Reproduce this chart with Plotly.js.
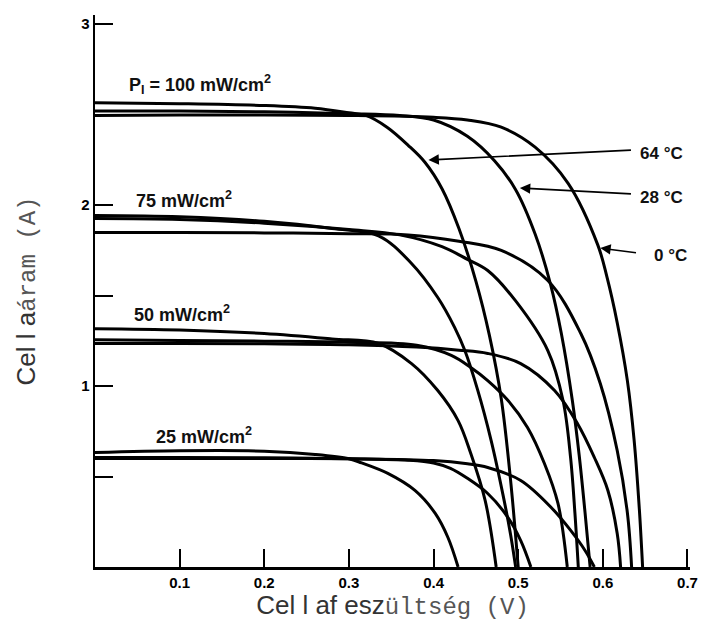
<!DOCTYPE html>
<html>
<head>
<meta charset="utf-8">
<script src="https://cdn.plot.ly/plotly-3.0.1.min.js"></script>
<style>html,body{margin:0;padding:0;background:#fff;}#chart{width:708px;height:630px;}</style>
</head>
<body>
<div id="chart"></div>
<script>
// ---- Data (cell voltage V, cell current A) ----
// 100 mW/cm2
const v100_64 = [0, 0.10, 0.20, 0.26, 0.30, 0.32, 0.345, 0.37, 0.39, 0.41, 0.43, 0.45, 0.466, 0.48, 0.491, 0.50];
const i100_64 = [2.565, 2.56, 2.55, 2.535, 2.51, 2.495, 2.43, 2.33, 2.235, 2.09, 1.87, 1.58, 1.28, 0.93, 0.48, 0];
const v100_28 = [0, 0.10, 0.20, 0.30, 0.36, 0.40, 0.44, 0.472, 0.497, 0.52, 0.538, 0.551, 0.564, 0.572, 0.579, 0.585];
const i100_28 = [2.52, 2.52, 2.515, 2.505, 2.495, 2.47, 2.38, 2.245, 2.085, 1.84, 1.566, 1.29, 0.92, 0.62, 0.30, 0];
const v100_0  = [0, 0.10, 0.20, 0.30, 0.40, 0.44, 0.48, 0.52, 0.559, 0.594, 0.605, 0.617, 0.629, 0.637, 0.643, 0.647];
const i100_0  = [2.495, 2.497, 2.497, 2.495, 2.485, 2.47, 2.43, 2.32, 2.12, 1.78, 1.60, 1.35, 1.03, 0.70, 0.33, 0];
// 75 mW/cm2
const v75_64 = [0, 0.10, 0.20, 0.28, 0.335, 0.374, 0.405, 0.425, 0.437, 0.452, 0.468, 0.482, 0.491, 0.497];
const i75_64 = [1.942, 1.935, 1.91, 1.87, 1.83, 1.677, 1.489, 1.323, 1.196, 0.98, 0.70, 0.40, 0.18, 0];
const v75_28 = [0, 0.10, 0.20, 0.30, 0.36, 0.41, 0.44, 0.464, 0.497, 0.535, 0.553, 0.562, 0.567, 0.571];
const i75_28 = [1.925, 1.92, 1.90, 1.865, 1.835, 1.77, 1.70, 1.638, 1.47, 1.196, 0.92, 0.60, 0.30, 0];
const v75_0  = [0, 0.10, 0.20, 0.30, 0.37, 0.43, 0.48, 0.535, 0.574, 0.597, 0.617, 0.629, 0.634];
const i75_0  = [1.848, 1.848, 1.846, 1.842, 1.835, 1.80, 1.749, 1.583, 1.29, 1.014, 0.644, 0.30, 0];
// 50 mW/cm2
const v50_64 = [0, 0.10, 0.20, 0.28, 0.335, 0.374, 0.405, 0.429, 0.444, 0.461, 0.474];
const i50_64 = [1.317, 1.31, 1.29, 1.26, 1.235, 1.124, 0.975, 0.809, 0.627, 0.367, 0];
const v50_28 = [0, 0.10, 0.20, 0.30, 0.38, 0.421, 0.444, 0.464, 0.488, 0.511, 0.531, 0.547, 0.558];
const i50_28 = [1.255, 1.252, 1.248, 1.242, 1.225, 1.169, 1.102, 1.03, 0.92, 0.771, 0.572, 0.351, 0];
const v50_0  = [0, 0.10, 0.20, 0.30, 0.38, 0.43, 0.464, 0.503, 0.543, 0.57, 0.59, 0.606, 0.617, 0.621];
const i50_0  = [1.235, 1.235, 1.233, 1.228, 1.215, 1.198, 1.18, 1.124, 0.975, 0.793, 0.605, 0.423, 0.185, 0];
// 25 mW/cm2
const v25_64 = [0, 0.10, 0.20, 0.26, 0.30, 0.315, 0.346, 0.378, 0.402, 0.417, 0.429];
const i25_64 = [0.632, 0.642, 0.64, 0.622, 0.598, 0.575, 0.517, 0.423, 0.296, 0.163, 0];
const v25_28 = [0, 0.10, 0.20, 0.30, 0.37, 0.40, 0.42, 0.44, 0.464, 0.488, 0.503, 0.515];
const i25_28 = [0.605, 0.605, 0.603, 0.598, 0.59, 0.575, 0.545, 0.49, 0.406, 0.273, 0.146, 0];
const v25_0  = [0, 0.10, 0.20, 0.30, 0.40, 0.44, 0.464, 0.503, 0.539, 0.562, 0.579, 0.590];
const i25_0  = [0.600, 0.600, 0.600, 0.598, 0.588, 0.57, 0.55, 0.478, 0.329, 0.202, 0.091, 0];

// Axis ticks
const xTickVals = [0.1, 0.2, 0.3, 0.4, 0.5, 0.6, 0.7];
const xTickText = ['0.1', '0.2', '0.3', '0.4', '0.5', '0.6', '0.7'];
const yTickVals = [0.5, 1, 1.5, 2, 2.5, 3];
const yTickText = ['', '1', '', '2', '', '3'];

// Labels
const irradLabels = ['P<sub>I</sub> = 100 mW/cm<sup>2</sup>', '75 mW/cm<sup>2</sup>', '50 mW/cm<sup>2</sup>', '25 mW/cm<sup>2</sup>'];
const tempLabels = ['64 °C', '28 °C', '0 °C'];

const curves = [
  [v100_64, i100_64], [v100_28, i100_28], [v100_0, i100_0],
  [v75_64, i75_64], [v75_28, i75_28], [v75_0, i75_0],
  [v50_64, i50_64], [v50_28, i50_28], [v50_0, i50_0],
  [v25_64, i25_64], [v25_28, i25_28], [v25_0, i25_0]
];

const traces = curves.map(c => ({
  x: c[0], y: c[1], type: 'scatter', mode: 'lines',
  line: {color: '#000', width: 3, shape: 'spline', smoothing: 1},
  hoverinfo: 'skip', showlegend: false
}));

const lblFont = {family: 'Liberation Sans, Arial, sans-serif', size: 18, color: '#111', weight: 'bold'};
const tmpFont = {family: 'Liberation Sans, Arial, sans-serif', size: 17, color: '#111', weight: 'bold'};
const irradPos = [[0.038, 2.665], [0.046, 2.03], [0.044, 1.40], [0.070, 0.724]];
const tempPos = [[0.641, 2.287], [0.641, 2.044], [0.658, 1.72]];
const arrowHeads = [[0.394, 2.249], [0.502, 2.094], [0.597, 1.762]];
const arrowTails = [[0.635, 2.304], [0.635, 2.061], [0.641, 1.735]];

const annotations = [];
irradLabels.forEach((t, k) => annotations.push({
  x: irradPos[k][0], y: irradPos[k][1], xref: 'x', yref: 'y', text: t,
  showarrow: false, xanchor: 'left', yanchor: 'middle', font: lblFont
}));
tempLabels.forEach((t, k) => {
  annotations.push({
    x: tempPos[k][0], y: tempPos[k][1], xref: 'x', yref: 'y', text: t,
    showarrow: false, xanchor: 'left', yanchor: 'middle', font: tmpFont
  });
  annotations.push({
    x: arrowHeads[k][0], y: arrowHeads[k][1], xref: 'x', yref: 'y',
    ax: arrowTails[k][0], ay: arrowTails[k][1], axref: 'x', ayref: 'y',
    text: '', showarrow: true, arrowhead: 2, arrowsize: 1.3, arrowwidth: 1.6, arrowcolor: '#000', standoff: 0
  });
});

const sansTitle = "font-family:'Liberation Sans';color:#333";
const monoTitle = "font-family:'Liberation Mono';color:#555;font-size:24px";

const layout = {
  width: 708, height: 630,
  margin: {l: 95, r: 18, t: 15, b: 63},
  paper_bgcolor: '#fff', plot_bgcolor: '#fff',
  showlegend: false,
  xaxis: {
    range: [0, 0.703], showgrid: false, zeroline: false,
    showline: true, linecolor: '#000', linewidth: 2.5,
    ticks: 'inside', ticklen: 18, tickwidth: 2, tickcolor: '#000',
    tickvals: xTickVals, ticktext: xTickText,
    tickfont: {family: 'Liberation Sans, Arial, sans-serif', size: 15, color: '#000', weight: 'bold'},
    title: {
      text: '<span style="' + sansTitle + '">Cel l af esz</span><span style="' + monoTitle + '">ültség (V)</span>',
      font: {family: 'Liberation Sans, Arial, sans-serif', size: 26, color: '#333'},
      standoff: 0
    }
  },
  yaxis: {
    range: [0, 3.05], showgrid: false, zeroline: false,
    showline: true, linecolor: '#000', linewidth: 2.5,
    ticks: 'inside', ticklen: 18, tickwidth: 2, tickcolor: '#000',
    tickvals: yTickVals, ticktext: yTickText,
    tickfont: {family: 'Liberation Sans, Arial, sans-serif', size: 15, color: '#000', weight: 'bold'},
    title: {
      text: '<span style="' + sansTitle + '">Cel l a</span><span style="' + monoTitle + '">áram (A)</span>',
      font: {family: 'Liberation Sans, Arial, sans-serif', size: 26, color: '#333'},
      standoff: 38
    }
  },
  annotations: annotations
};

Plotly.newPlot('chart', traces, layout, {displayModeBar: false, staticPlot: true});
</script>
</body>
</html>
